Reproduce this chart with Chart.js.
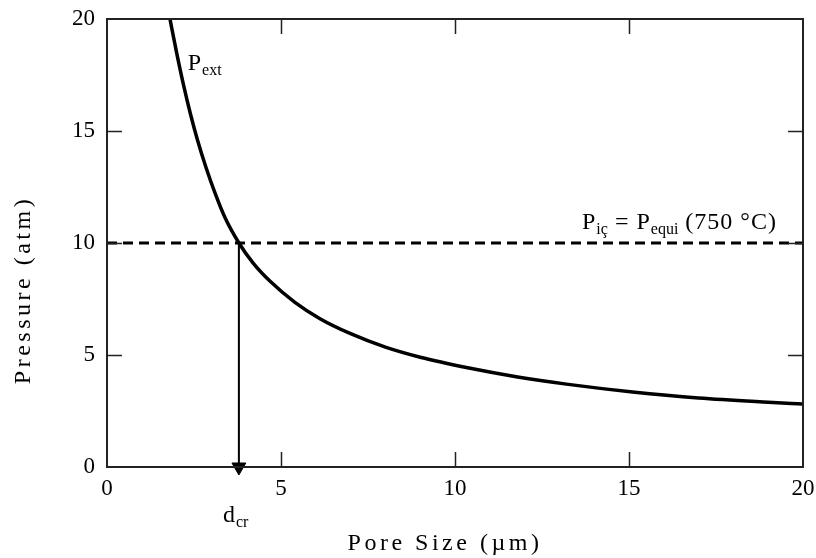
<!DOCTYPE html>
<html>
<head>
<meta charset="utf-8">
<title>Pressure vs Pore Size</title>
<script src="https://cdn.jsdelivr.net/npm/chart.js@4.4.1/dist/chart.umd.min.js"></script>
<style>
  html, body { margin: 0; padding: 0; background: #fff; }
  #chart { display: block; }
</style>
</head>
<body>
<canvas id="chart" width="816" height="558"></canvas>
<script>
// external pressure curve, read point by point
const poreSize = [1.81, 2.0, 2.2, 2.4, 2.6, 2.85, 3.1, 3.4, 3.79, 4.2, 4.68, 5.4, 6.12, 7.0, 8.0, 9.0, 10.4, 11.8, 13.2, 15.1, 17.0, 19.0, 20];
const pressure = [20, 18.5, 17.05, 15.75, 14.6, 13.35, 12.25, 11.1, 10.0, 9.1, 8.3, 7.35, 6.62, 5.95, 5.35, 4.9, 4.42, 4.02, 3.7, 3.35, 3.08, 2.89, 2.81];

// equilibrium pressure at 750 °C and the critical pore size
const equiPressure = 10;
const criticalSize = 3.79;

const xTicks = [0, 5, 10, 15, 20];
const yTicks = [0, 5, 10, 15, 20];

const SERIF = '"Liberation Serif", "Times New Roman", serif';
const INK = '#000';
const FRAME = '#222';

// text with subscripts, drawn piece by piece
function drawRich(ctx, x, y, parts, size, subSize, spacing) {
  ctx.save();
  ctx.fillStyle = INK;
  ctx.textBaseline = 'alphabetic';
  ctx.textAlign = 'left';
  let cx = x;
  parts.forEach(p => {
    ctx.font = (p.sub ? subSize : size) + 'px ' + SERIF;
    ctx.letterSpacing = (p.sub ? 0 : spacing) + 'px';
    ctx.fillText(p.t, cx, y + (p.sub ? 5 : 0));
    cx += ctx.measureText(p.t).width;
  });
  ctx.restore();
}

const framePlugin = {
  id: 'frame',
  afterDraw(chart) {
    const { ctx, chartArea: a, scales } = chart;
    const xs = scales.x, ys = scales.y;
    const len = 15;
    ctx.save();
    ctx.strokeStyle = FRAME;
    ctx.lineWidth = 2;
    ctx.strokeRect(a.left, a.top, a.right - a.left, a.bottom - a.top);

    // inward ticks on all four sides
    ctx.lineWidth = 1.5;
    ctx.beginPath();
    xTicks.slice(1, -1).forEach(v => {
      const px = Math.round(xs.getPixelForValue(v)) + 0.5;
      ctx.moveTo(px, a.bottom); ctx.lineTo(px, a.bottom - len);
      ctx.moveTo(px, a.top); ctx.lineTo(px, a.top + len);
    });
    yTicks.slice(1, -1).forEach(v => {
      const py = Math.round(ys.getPixelForValue(v)) + 0.5;
      ctx.moveTo(a.left, py); ctx.lineTo(a.left + len, py);
      ctx.moveTo(a.right, py); ctx.lineTo(a.right - len, py);
    });
    ctx.stroke();
    ctx.restore();

    // axis titles
    ctx.save();
    ctx.fillStyle = INK;
    ctx.font = '24px ' + SERIF;
    ctx.letterSpacing = '3.5px';
    ctx.textAlign = 'center';
    ctx.textBaseline = 'alphabetic';
    ctx.fillText('Pore Size (\u00b5m)', (a.left + a.right) / 2 - 10, 550);
    ctx.translate(30, ys.getPixelForValue(10) + 47);
    ctx.rotate(-Math.PI / 2);
    ctx.fillText('Pressure (atm)', 0, 0);
    ctx.restore();

    // curve and line labels
    drawRich(ctx, xs.getPixelForValue(2.32), ys.getPixelForValue(17.72),
      [{ t: 'P' }, { t: 'ext', sub: true }], 24, 16, 1);
    drawRich(ctx, xs.getPixelForValue(13.65), ys.getPixelForValue(10) - 14,
      [{ t: 'P' }, { t: 'i\u00e7', sub: true }, { t: ' = P' }, { t: 'equi', sub: true }, { t: ' (750 \u00b0C)' }], 24, 16, 1);
    drawRich(ctx, xs.getPixelForValue(criticalSize) - 16, a.bottom + 55,
      [{ t: 'd' }, { t: 'cr', sub: true }], 24, 16, 1);
  }
};

const tickFont = { family: SERIF, size: 23 };

new Chart(document.getElementById('chart'), {
  type: 'scatter',
  data: {
    datasets: [
      {
        label: 'Pext',
        data: poreSize.map((d, i) => ({ x: d, y: pressure[i] })),
        showLine: true,
        borderColor: INK,
        borderWidth: 3.5,
        pointRadius: 0,
        cubicInterpolationMode: 'monotone'
      },
      {
        label: 'Pequi',
        data: [{ x: xTicks[0], y: equiPressure }, { x: xTicks[xTicks.length - 1], y: equiPressure }],
        showLine: true,
        borderColor: INK,
        borderWidth: 3,
        borderDash: [10, 6],
        pointRadius: 0
      },
      {
        label: 'dcr',
        data: [{ x: criticalSize, y: equiPressure }, { x: criticalSize, y: 0 }],
        showLine: true,
        borderColor: INK,
        borderWidth: 2,
        pointStyle: 'triangle',
        rotation: 180,
        pointRadius: [0, 8],
        pointBackgroundColor: INK,
        pointBorderColor: INK,
        pointBorderWidth: 1,
        clip: false
      }
    ]
  },
  options: {
    responsive: false,
    animation: false,
    layout: { padding: { top: 19, right: 13, left: 0, bottom: 0 } },
    plugins: {
      legend: { display: false },
      tooltip: { enabled: false }
    },
    scales: {
      x: {
        type: 'linear',
        min: 0,
        max: 20,
        afterBuildTicks: s => { s.ticks = xTicks.map(v => ({ value: v })); },
        ticks: { font: tickFont, color: INK, padding: 8, maxRotation: 0 },
        grid: { display: false, drawTicks: false },
        border: { display: false },
        afterFit: s => { s.height = 91; s.paddingLeft = 0; s.paddingRight = 0; }
      },
      y: {
        type: 'linear',
        min: 0,
        max: 20,
        afterBuildTicks: s => { s.ticks = yTicks.map(v => ({ value: v })); },
        ticks: { font: tickFont, color: INK, padding: 12 },
        grid: { display: false, drawTicks: false },
        border: { display: false },
        afterFit: s => { s.width = 107; s.paddingTop = 0; s.paddingBottom = 0; }
      }
    }
  },
  plugins: [framePlugin]
});
</script>
</body>
</html>
